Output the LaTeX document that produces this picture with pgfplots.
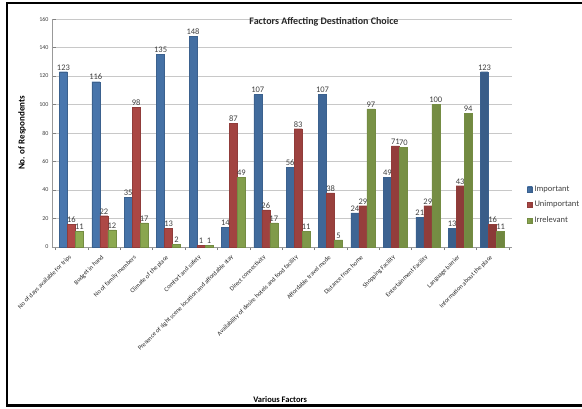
\documentclass[border=0pt]{standalone}
\usepackage{pgfplots}
\pgfplotsset{compat=1.18}
\usepackage{fontspec}
\setmainfont{Carlito}

\definecolor{impC}{HTML}{4F81BD}
\definecolor{unimpC}{HTML}{C0504D}
\definecolor{irrC}{HTML}{9BBB59}
\definecolor{gridC}{HTML}{C8C8C8}
\definecolor{txtC}{HTML}{404040}

\begin{document}
\begin{tikzpicture}
\begin{axis}[
  at={(52pt,161pt)}, anchor=south west,
  scale only axis, width=460pt, height=228pt,
  ybar=0pt, bar width=8pt,
  xmin=-0.6, xmax=13.6, ymin=0, ymax=160,
  ytick={0,20,...,160},
  xtick={0,...,13},
  xticklabels={
    No of days available for trips,
    Budget in hand,
    No of family members,
    Climate of the place,
    Comfort and safety,
    Presence of sight scene location and affordable stay,
    Direct connectivity,
    Availability of desire hotels and food facility,
    Affordable travel mode,
    Distance from home,
    Shopping Facility,
    Entertainment Facility,
    Language barrier,
    Information about the place},
  minor xtick={-0.5,0.5,...,13.5},
  major x tick style={draw=none},
  minor tick length=3pt,
  tick style={gray},
  axis x line*=bottom, axis y line*=left,
  axis line style={gray!80},
  ymajorgrids, grid style={gridC, line width=0.6pt},
  /pgf/number format/assume math mode=true,
  yticklabel style={font=\fontsize{6}{7}\selectfont, text=txtC},
  xticklabel style={font=\fontsize{6.3}{7}\selectfont, text=black!85, rotate=45, anchor=east, yshift=-3pt, xshift=-1pt},
  ylabel={No. of Respondents},
  ylabel style={font=\bfseries\fontsize{9}{10}\selectfont, at={(axis description cs:-0.065,0.5)}, anchor=center},
  xlabel={Various Factors},
  xlabel style={font=\bfseries\fontsize{8.5}{10}\selectfont, at={(axis description cs:0.496,-0.671)}, anchor=center},
  nodes near coords,
  every node near coord/.append style={font=\fontsize{8.5}{9}\selectfont, text=txtC, inner sep=1.5pt},
  legend style={at={(axis description cs:1,0.184)}, anchor=west, xshift=12pt, draw=none, fill=none,
    font=\fontsize{8.5}{9}\selectfont, row sep=4.5pt, text=txtC},
  legend cell align=left,
  legend image code/.code={\fill[#1] (0pt,-2.5pt) rectangle (5pt,2.5pt);},
]
\addplot[draw=impC!75!black, line width=0.3pt, left color=impC!92!black, middle color=impC!78!white, right color=impC!72!black]
  coordinates {(0,123) (1,116) (2,35) (3,135) (4,148) (5,14) (6,107) (7,56) (8,107) (9,24) (10,49) (11,21) (12,13) (13,123)};
\addplot[draw=unimpC!75!black, line width=0.3pt, left color=unimpC!92!black, middle color=unimpC!78!white, right color=unimpC!72!black]
  coordinates {(0,16) (1,22) (2,98) (3,13) (4,1) (5,87) (6,26) (7,83) (8,38) (9,29) (10,71) (11,29) (12,43) (13,16)};
\addplot[draw=irrC!75!black, line width=0.3pt, left color=irrC!92!black, middle color=irrC!78!white, right color=irrC!72!black]
  coordinates {(0,11) (1,12) (2,17) (3,2) (4,1) (5,49) (6,17) (7,11) (8,5) (9,97) (10,70) (11,100) (12,94) (13,11)};
\legend{Important, Unimportant, Irrelevant}
\end{axis}
\node[font=\bfseries\fontsize{10}{12}\selectfont, text=black!85] at (324pt,386pt) {Factors Affecting Destination Choice};
\draw[line width=2.2pt, black] (595pt,405pt) -- (7pt,405pt) -- (7pt,2.5pt) -- (595pt,2.5pt);
\pgfresetboundingbox
\path[use as bounding box] (0pt,0pt) rectangle (582pt,408pt);
\end{tikzpicture}
\end{document}
